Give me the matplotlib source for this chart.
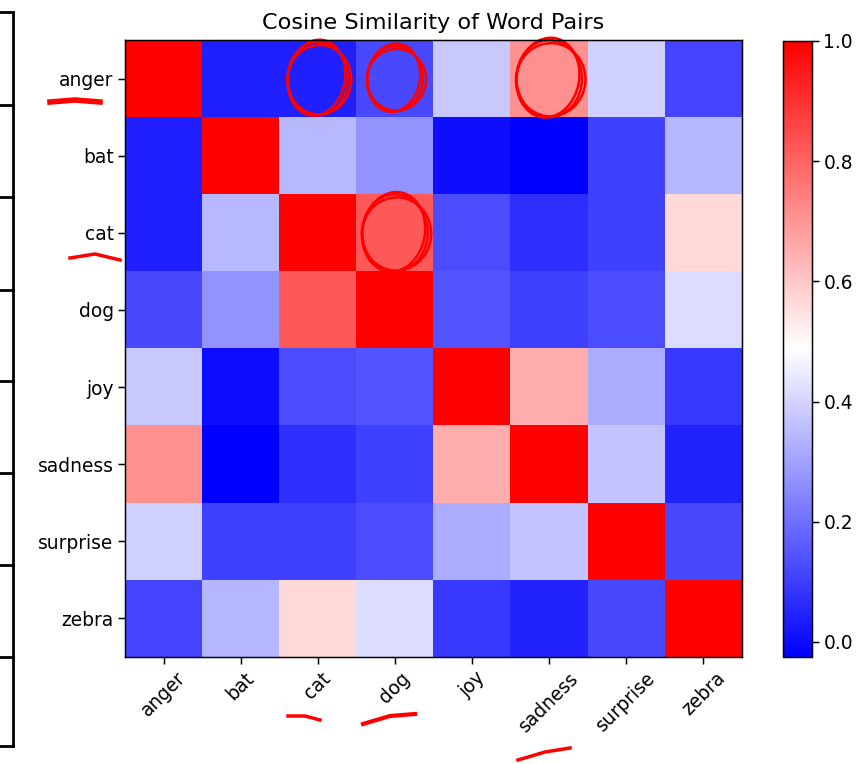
import matplotlib
matplotlib.use("Agg")
import matplotlib.pyplot as plt
import numpy as np
from matplotlib.patches import Ellipse
from matplotlib.lines import Line2D

words = ["anger", "bat", "cat", "dog", "joy", "sadness", "surprise", "zebra"]
anger    = [1.000, 0.043, 0.043, 0.120, 0.377, 0.711, 0.393, 0.112]
bat      = [0.043, 1.000, 0.345, 0.272, 0.007, -0.025, 0.104, 0.340]
cat      = [0.043, 0.345, 1.000, 0.823, 0.128, 0.071, 0.104, 0.566]
dog      = [0.120, 0.272, 0.823, 1.000, 0.144, 0.104, 0.128, 0.417]
joy      = [0.377, 0.007, 0.128, 0.144, 1.000, 0.655, 0.321, 0.088]
sadness  = [0.711, -0.025, 0.071, 0.104, 0.655, 1.000, 0.369, 0.047]
surprise = [0.393, 0.104, 0.104, 0.128, 0.321, 0.369, 1.000, 0.120]
zebra    = [0.112, 0.340, 0.566, 0.417, 0.088, 0.047, 0.120, 1.000]
cbar_ticks = [0.0, 0.2, 0.4, 0.6, 0.8, 1.0]

matrix = np.array([anger, bat, cat, dog, joy, sadness, surprise, zebra])

s = 1.34
plt.rcParams.update({
    "font.size": 10 * s,
    "xtick.major.size": 3.5 * s,
    "ytick.major.size": 3.5 * s,
    "xtick.major.width": 0.8 * s,
    "ytick.major.width": 0.8 * s,
    "axes.linewidth": 0.8 * s,
})

fig = plt.figure(figsize=(8.64, 7.64), dpi=100)
ax = fig.add_axes([125 / 864, 1 - 657 / 764, 617 / 864, 617 / 764])
cax = fig.add_axes([783 / 864, 1 - 657 / 764, 29 / 864, 616 / 764])

im = ax.imshow(matrix, cmap="bwr", aspect="auto")
ax.set_xticks(range(len(words)))
ax.set_yticks(range(len(words)))
ax.set_xticklabels(words, rotation=45, ha="center")
ax.set_yticklabels(words)
ax.set_title("Cosine Similarity of Word Pairs", fontsize=12 * s, pad=6 * s)

cb = fig.colorbar(im, cax=cax)
cb.set_ticks(cbar_ticks)
cb.set_ticklabels([f"{t:.1f}" for t in cbar_ticks])

# hand-drawn style red annotations
red = "#ff0000"
for (r, c, w, h) in [(0, 2, 0.78, 0.95), (0, 3, 0.72, 0.85), (0, 5, 0.85, 1.0), (2, 3, 0.85, 1.0)]:
    for k, d in enumerate([0.0, 0.05, -0.04]):
        ax.add_patch(Ellipse((c + d * 0.4, r + d * 0.3), w + d, h - d, angle=5 * k,
                             fill=False, ec=red, lw=1.8, clip_on=False))

def fig_line(xs, ys, **kw):
    fig.add_artist(Line2D([x / 864 for x in xs], [1 - y / 764 for y in ys],
                          transform=fig.transFigure, **kw))

fig_line([50, 75, 100], [102, 100, 102], color=red, lw=4)
fig_line([70, 95, 120], [258, 254, 260], color=red, lw=2.5)
fig_line([288, 305, 320], [716, 716, 720], color=red, lw=2.5)
fig_line([363, 390, 415], [724, 716, 714], color=red, lw=3)
fig_line([518, 545, 570], [760, 752, 748], color=red, lw=2.5)

# left bracket structure
fig_line([13, 13], [12, 746], color="black", lw=2)
for y in [12, 105, 197, 290, 381, 473, 565, 657, 746]:
    fig_line([0, 13], [y, y], color="black", lw=2)

fig.savefig("out.png", dpi=100)
